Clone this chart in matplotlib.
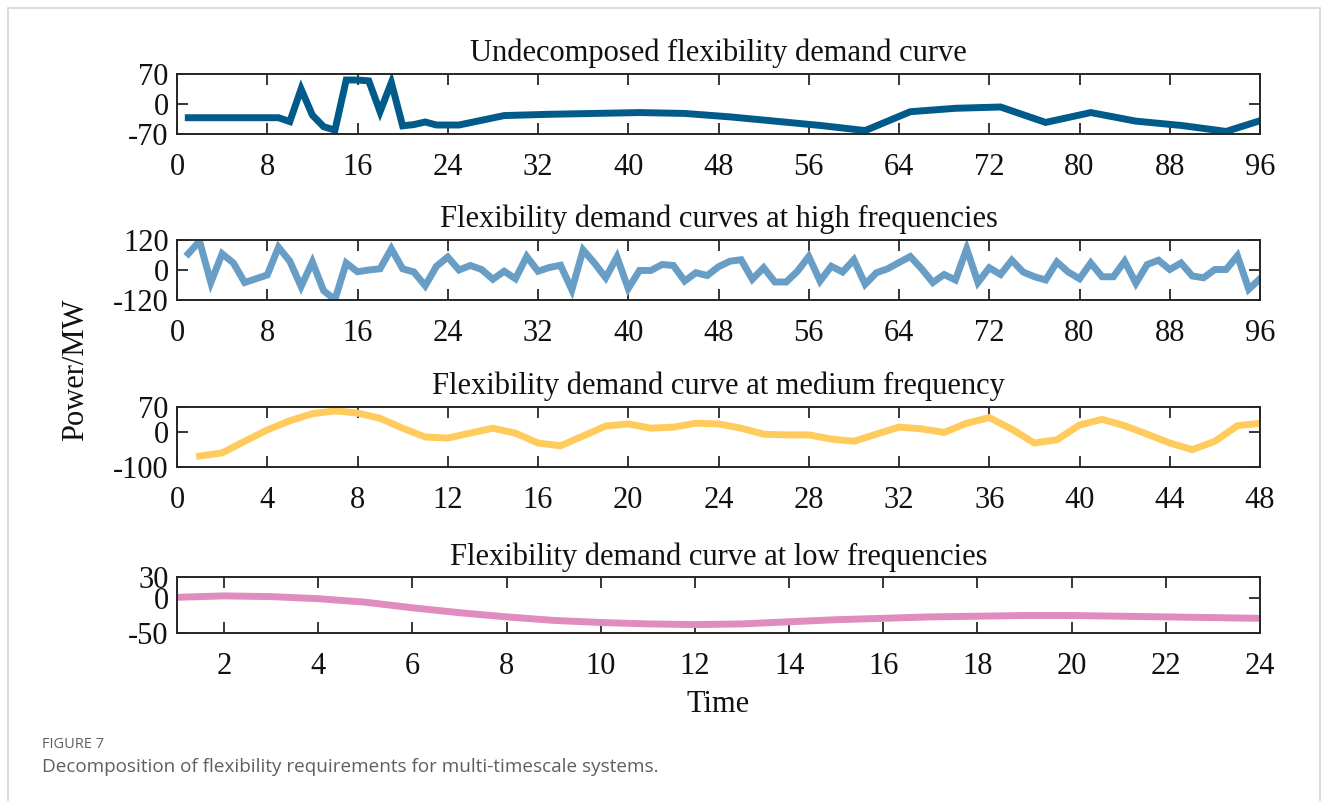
import matplotlib
matplotlib.use("Agg")
import matplotlib.pyplot as plt
from matplotlib.patches import Rectangle

plt.rcParams['font.family'] = ['Liberation Serif', 'DejaVu Serif']
plt.rcParams['axes.unicode_minus'] = False

# Undecomposed demand (breakpoints of the curve)
raw_t = [1, 9, 10, 11, 12, 13, 14, 15, 16, 17, 18, 19, 20, 21, 22, 23, 25, 29,
         33, 37, 41, 45, 49, 53, 57, 61, 65, 69, 73, 77, 81, 85, 89, 93, 96]
raw_p = [-32, -32, -41, 35, -26, -53, -61, 56, 56, 54, -18, 50, -51, -48, -42, -49, -49, -27,
         -24, -22, -20, -22, -30, -40, -50, -62, -18, -10, -7, -43, -20, -40, -50, -64, -39]

# High-frequency component, 15-min resolution
high_t = list(range(1, 97))
high_p = [65, 115, -50, 65, 28, -50, -35, -20, 91, 35,
          -66, 32, -83, -118, 28, -7, 0, 5, 85, 5,
          -8, -63, 15, 52, 0, 18, 2, -37, -5, -35,
          54, -5, 10, 19, -79, 80, 28, -31, 52, -74,
          -2, -2, 22, 18, -44, -11, -22, 13, 35, 41,
          -37, 9, -48, -48, -5, 54, -44, 15, -8, 41,
          -57, -11, 5, 30, 54, 5, -50, -18, -40, 85,
          -50, 9, -18, 39, -8, -27, -40, 32, -8, -35,
          28, -27, -27, 35, -53, 22, 39, 2, 28, -24,
          -31, 2, 2, 57, -77, -35]

# Medium-frequency component, 30-min resolution
med_t = list(range(1, 49))
med_p = [-69, -60, -27, 5, 31, 51, 59, 53, 38, 10,
         -15, -18, -4, 10, -4, -32, -40, -12, 16, 22,
         10, 13, 24, 22, 10, -7, -9, -9, -21, -27,
         -7, 13, 8, -2, 24, 40, 7, -32, -23, 19,
         35, 17, -7, -32, -51, -27, 17, 24]

# Low-frequency component, hourly
low_t = list(range(1, 25))
low_p = [1, 3, 2, -1, -6, -14, -21, -27, -32, -35,
         -37, -38, -37, -34, -31, -29, -27, -26, -25, -25,
         -26, -27, -28, -29]

titles = ['Undecomposed flexibility demand curve',
          'Flexibility demand curves at high frequencies',
          'Flexibility demand curve at medium frequency',
          'Flexibility demand curve at low frequencies']
colors = ['#005b8a', '#689ec6', '#ffcb5c', '#e08cbf']
yticks = [[-70, 0, 70], [-120, 0, 120], [-100, 0, 70], [-50, 0, 30]]
xticks = [list(range(0, 97, 8)), list(range(0, 97, 8)), list(range(0, 49, 4)), list(range(2, 25, 2))]
xlims = [(0, 96), (0, 96), (0, 48), (1, 24)]
series = [(raw_t, raw_p), (high_t, high_p), (med_t, med_p), (low_t, low_p)]

W, H = 1328, 801
fig = plt.figure(figsize=(W / 100, H / 100), dpi=100)

# axes boxes in pixels: (top, bottom)
boxes = [(74, 134), (240, 300), (407, 467), (577, 633)]
left, right = 177, 1260

for i, (top, bot) in enumerate(boxes):
    ax = fig.add_axes([left / W, 1 - bot / H, (right - left) / W, (bot - top) / H])
    t, p = series[i]
    ax.plot(t, p, color=colors[i], lw=5, solid_joinstyle='miter')
    ax.set_xlim(*xlims[i])
    ax.set_ylim(yticks[i][0], yticks[i][-1])
    ax.set_xticks(xticks[i])
    ax.set_yticks(yticks[i])
    ax.set_yticklabels([str(v) for v in yticks[i]])
    ax.tick_params(direction='in', length=8, width=1.3, color='#262626',
                   top=True, right=True, labelsize=22, labelcolor='#111111')
    ax.tick_params(axis='x', pad=14)
    ax.tick_params(axis='y', pad=6)
    for s in ax.spines.values():
        s.set_linewidth(1.4)
        s.set_color('#262626')
    ax.set_title(titles[i], fontsize=22, pad=9, color='#111111')

fig.text(76 / W, 1 - 370 / H, 'Power/MW', rotation=90, ha='center', va='center', fontsize=22, color='#111111')
fig.text(718 / W, 1 - 705 / H, 'Time', ha='center', va='center', fontsize=22, color='#111111')

# page frame and caption
fig.patches.append(Rectangle((8 / W, -0.1), (1320 - 8) / W, 1.1 - 8 / H, transform=fig.transFigure,
                             fill=False, edgecolor='#d6d6d6', lw=1.2))
fig.text(42 / W, 1 - 745 / H, 'FIGURE 7', fontsize=10.5, color='#5f5f5f', family=['Open Sans', 'DejaVu Sans'],
         va='center', ha='left')
fig.text(42 / W, 1 - 767 / H, 'Decomposition of flexibility requirements for multi-timescale systems.',
         fontsize=13.6, color='#5f5f5f', family=['Open Sans', 'DejaVu Sans'], va='center', ha='left')

fig.savefig('out.png', dpi=100)
